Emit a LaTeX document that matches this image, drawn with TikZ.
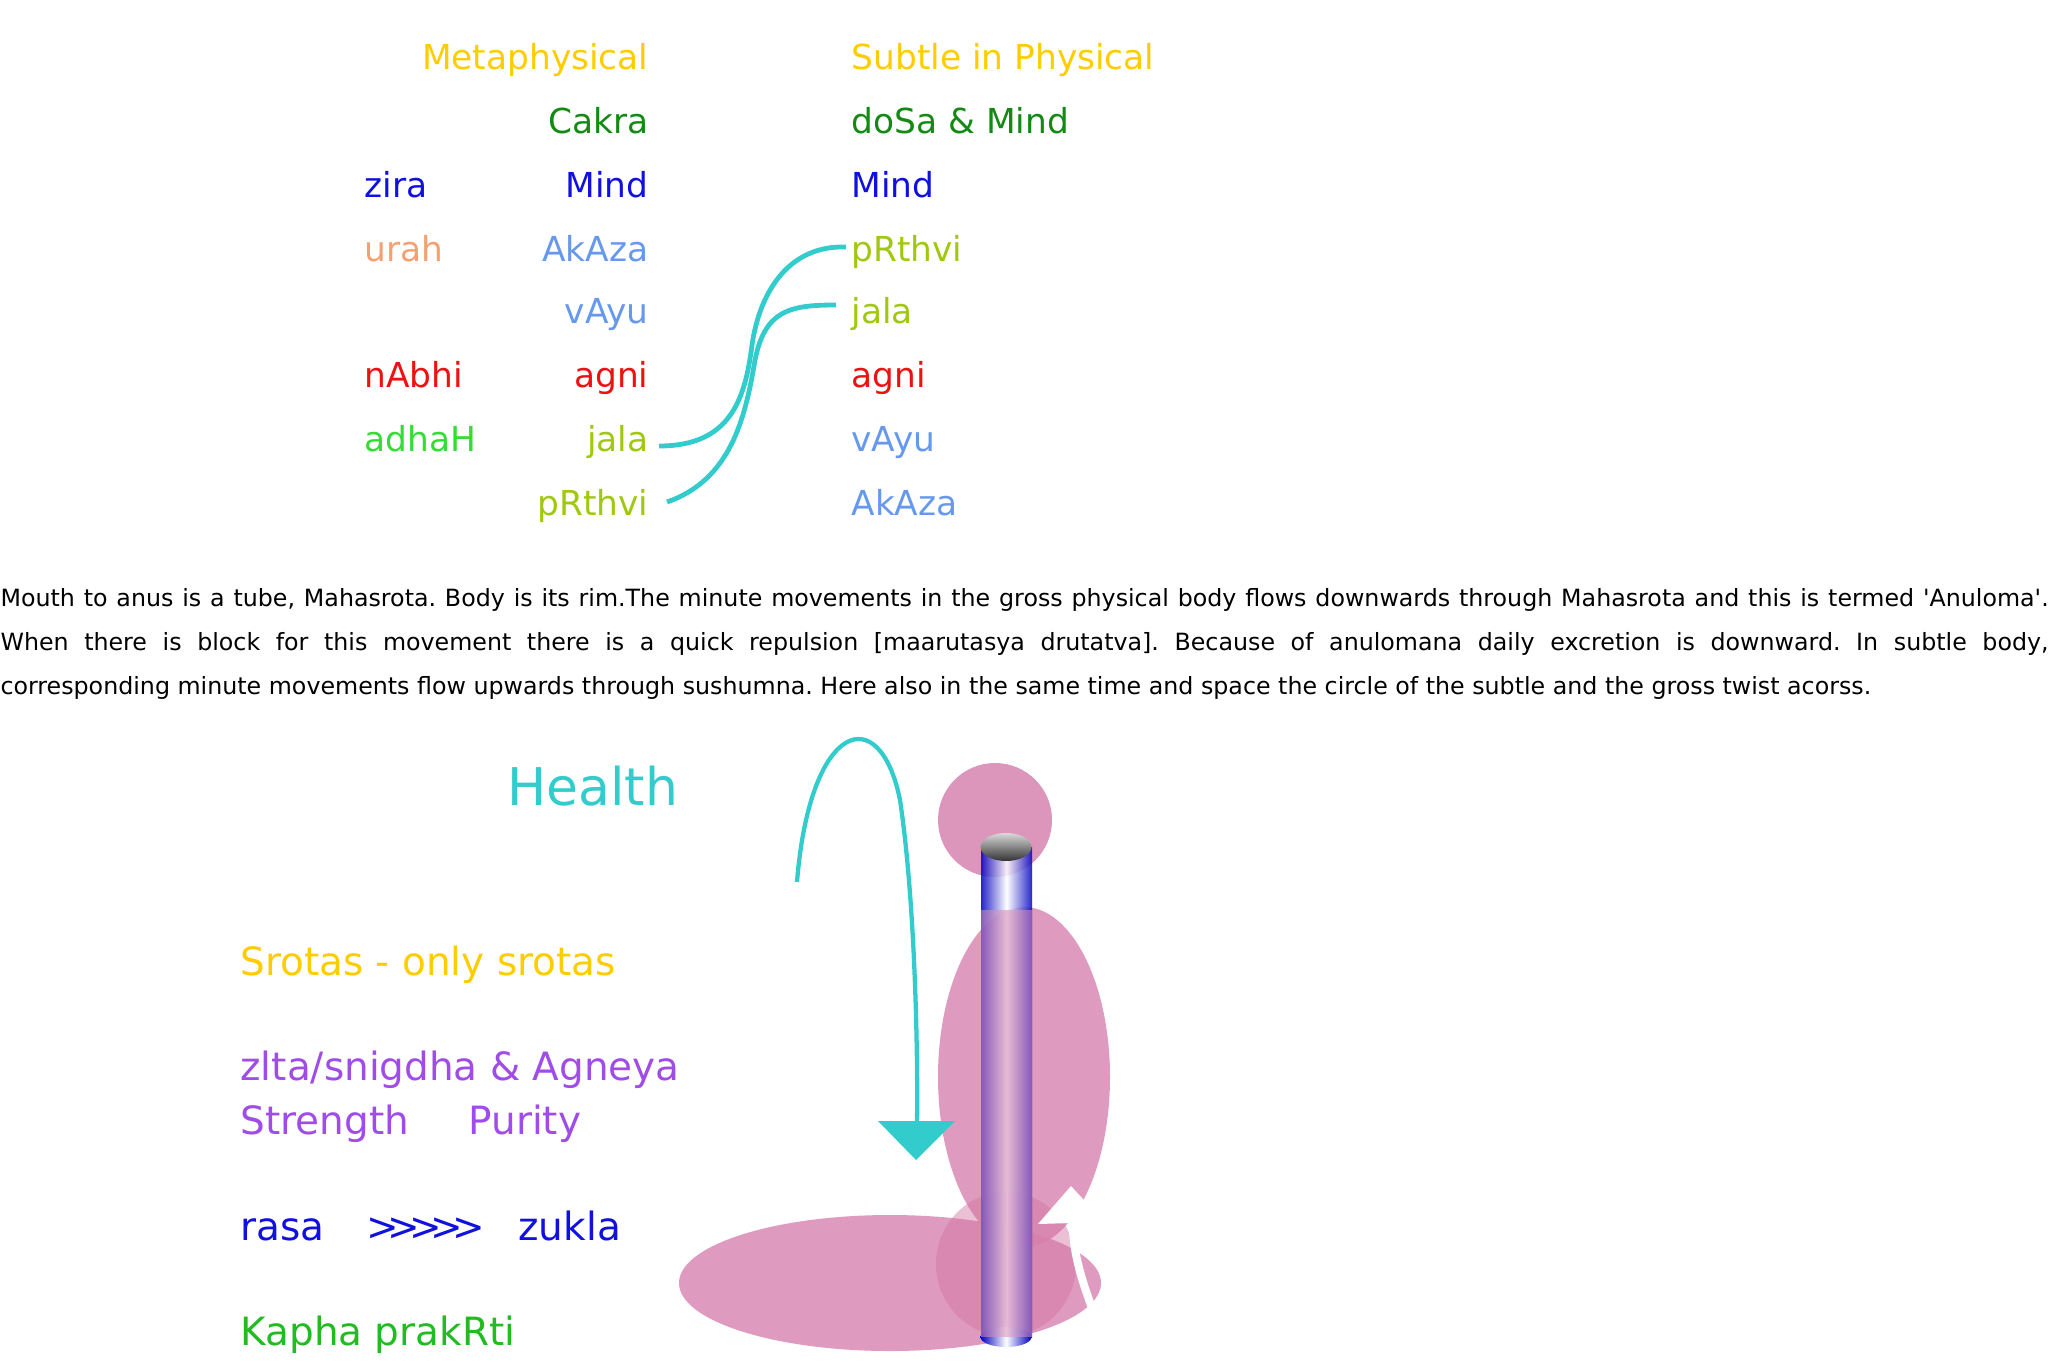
\documentclass[tikz,border=0pt]{standalone}
\usepackage{fontspec}
\setmainfont{DejaVu Sans}
\usetikzlibrary{shapes.geometric}
\definecolor{gold}{HTML}{FFCC00}
\definecolor{dgreen}{HTML}{138A13}
\definecolor{mblue}{HTML}{1010E0}
\definecolor{salmon}{HTML}{F4A070}
\definecolor{cblue}{HTML}{6699EE}
\definecolor{ygreen}{HTML}{A0C810}
\definecolor{mred}{HTML}{EE1111}
\definecolor{bgreen}{HTML}{33DD33}
\definecolor{kgreen}{HTML}{22BB22}
\definecolor{teal}{HTML}{33CCCC}
\definecolor{purp}{HTML}{A04CE8}
\definecolor{pink}{HTML}{DA90B8}
\begin{document}
\begin{tikzpicture}[x=0.375pt,y=-0.375pt,
  lbl/.style={font=\fontsize{12.9}{16}\selectfont,inner sep=0pt},
  L/.style={lbl,anchor=base west},
  R/.style={lbl,anchor=base east},
  big/.style={font=\fontsize{14.6}{19}\selectfont,inner sep=0pt,anchor=base west},
  link/.style={teal,line width=1.8pt}]
\useasboundingbox (0,0) rectangle (2048,1364);
% top table (baselines)
\node[R,gold] (mh) at (649,69) {Metaphysical};
\node[L,gold] (sp) at (851,69) {Subtle in Physical};
\node[R,dgreen] (ck) at (649,133) {Cakra};
\node[L,dgreen] (dm) at (851,133) {doSa \& Mind};
\node[L,mblue] (zr) at (364,197) {zira};
\node[R,mblue] (m1) at (649,197) {Mind};
\node[L,mblue] (m2) at (851,197) {Mind};
\node[L,salmon] (ur) at (364,261) {urah};
\node[R,cblue] (a1) at (649,261) {AkAza};
\node[L,ygreen] (p2) at (851,261) {pRthvi};
\node[R,cblue] (v1) at (649,323) {vAyu};
\node[L,ygreen] (j2) at (851,323) {jala};
\node[L,mred] (na) at (364,387) {nAbhi};
\node[R,mred] (g1) at (649,387) {agni};
\node[L,mred] (g2) at (851,387) {agni};
\node[L,bgreen] (ad) at (364,451) {adhaH};
\node[R,ygreen] (j1) at (649,451) {jala};
\node[L,cblue] (v2) at (851,451) {vAyu};
\node[R,ygreen] (p1) at (649,515) {pRthvi};
\node[L,cblue] (a2) at (851,515) {AkAza};
\draw[link] (659,446) .. controls (730,446) and (745,400) .. (752,345) .. controls (760,290) and (790,245) .. (846,247);
\draw[link] (667,502) .. controls (730,480) and (745,420) .. (755,360) .. controls (765,310) and (790,305) .. (836,305);
% paragraph
\node[anchor=north west,inner sep=0pt,text width=768pt,align=justify,
  font=\fontsize{8.9}{16.5}\selectfont] (para) at (0,588) {\frenchspacing Mouth to anus is a tube, Mahasrota. Body is its rim.The minute movements in the gross physical body flows downwards through Mahasrota and this is termed \textquotesingle Anuloma\textquotesingle.\linebreak When there is block for this movement there is a quick repulsion [maarutasya drutatva]. Because of anulomana daily excretion is downward. In subtle body,\linebreak corresponding minute movements flow upwards through sushumna. Here also in the same time and space the circle of the subtle and the gross twist acorss.};
% bottom texts
\node[font=\fontsize{19.5}{25}\selectfont,inner sep=0pt,anchor=base west,teal] (hl) at (507,805) {Health};
\node[big,gold] (sr) at (240,975) {Srotas - only srotas};
\node[big,purp] (zl) at (240,1080) {zlta/snigdha \& Agneya};
\node[big,purp] (st) at (240,1134) {Strength};
\node[big,purp] (pu) at (468,1134) {Purity};
\node[big,mblue] (rs) at (240,1240) {rasa};
\node[big,mblue] (gt) at (366,1240) {{>}\kern-4.2pt{>}\kern-4.2pt{>}\kern-4.2pt{>}\kern-4.2pt{>}};
\node[big,mblue] (zk) at (518,1240) {zukla};
\node[big,kgreen] (kp) at (240,1345) {Kapha prakRti};
% body shapes
\fill[pink,opacity=0.95] (995,820) circle (57);
\fill[pink,opacity=0.9] (890,1283) ellipse (211 and 68);
\fill[pink,opacity=0.9] (1024,1077) ellipse (86 and 170);
\fill[pink!80!purple,opacity=0.45] (1006,1264) ellipse (70 and 72);
% cylinder
\shade[left color=blue!75!black,right color=blue!75!black,middle color=white,opacity=0.85] (981,847) rectangle (1032,1337);
\shade[left color=blue!75!black,right color=blue!75!black,middle color=white] (1006,1337) ellipse (25.5 and 10);
\fill[pink,opacity=0.55] (981,910) rectangle (1032,1337);
\shade[top color=gray!30,bottom color=black!80] (1006,847) ellipse (25.5 and 14);
% teal arrow
\draw[teal,line width=1.6pt] (797,882) .. controls (810,720) and (880,700) .. (900,800) .. controls (915,900) and (918,1050) .. (917,1125);
\fill[teal] (878,1121) -- (955,1121) -- (916,1160) -- cycle;
% white arrow
\draw[white,line width=3pt] (1092,1308) .. controls (1078,1270) and (1072,1245) .. (1073,1218);
\fill[white] (1071,1186) -- (1104,1222) -- (1038,1224) -- cycle;
\end{tikzpicture}
\end{document}
